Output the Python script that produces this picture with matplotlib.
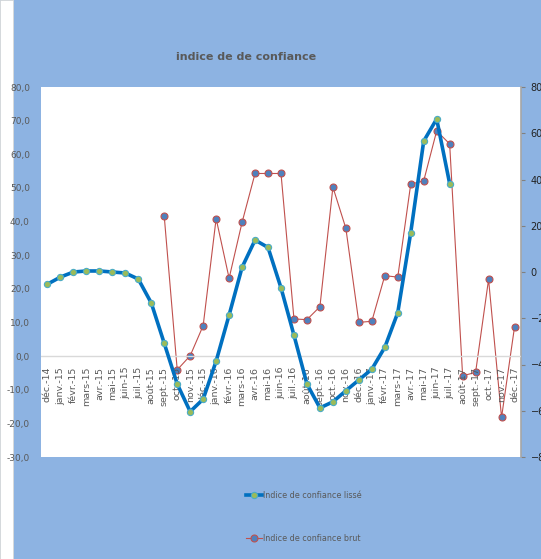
import matplotlib
matplotlib.use("Agg")
import matplotlib.pyplot as plt
from matplotlib.patches import Rectangle
from matplotlib.ticker import FuncFormatter

months = ["déc.-14", "janv.-15", "févr.-15", "mars-15", "avr.-15", "mai-15", "juin-15",
          "juil.-15", "août-15", "sept.-15", "oct.-15", "nov.-15", "déc.-15",
          "janv.-16", "févr.-16", "mars-16", "avr.-16", "mai-16", "juin-16", "juil.-16",
          "août-16", "sept.-16", "oct.-16", "nov.-16", "déc.-16",
          "janv.-17", "févr.-17", "mars-17", "avr.-17", "mai-17", "juin-17", "juil.-17",
          "août-17", "sept.-17", "oct.-17", "nov.-17", "déc.-17"]

# indice lissé (left axis), déc.-14 .. juil.-17
lisse = [21.4, 23.5, 25.0, 25.3, 25.3, 25.0, 24.7, 22.9, 15.8, 3.8, -8.3, -16.5, -12.8,
         -1.5, 12.2, 26.4, 34.5, 32.3, 20.3, 6.2, -8.3, -15.4, -13.6, -10.3, -7.1,
         -3.9, 2.6, 12.9, 36.7, 63.9, 70.5, 51.3]

# indice brut (right axis), sept.-15 .. déc.-17
brut_start = 9
brut = [24.1, -42.3, -36.2, -23.2, 23.1, -2.7, 21.5, 42.6, 42.6, 42.6, -20.3, -20.6,
        -15.0, 36.7, 18.9, -21.8, -21.3, -1.6, -2.2, 38.0, 39.4, 61.0, 55.4, -44.9,
        -43.4, -3.2, -62.9, -23.8]

BG = "#8DB3E2"
GREY = "#595959"

fig = plt.figure(figsize=(5.41, 5.59), dpi=100, facecolor=BG)
fig.patches.append(Rectangle((0, 0), 13 / 541, 1, transform=fig.transFigure,
                             facecolor="white", edgecolor="#d9d9d9", lw=0.6, zorder=0))

ax = fig.add_axes([41 / 541, 1 - 457 / 559, 480 / 541, 370 / 559])
ax2 = ax.twinx()

n = len(months)
ax.set_xlim(-0.5, n - 0.5)
ax.set_ylim(-30, 80)
ax.set_yticks(range(-30, 81, 10))
ax.yaxis.set_major_formatter(FuncFormatter(lambda v, p: f"{v:.1f}".replace(".", ",")))
ax.tick_params(axis="y", length=0, labelsize=6.5, labelcolor=GREY, pad=8)
ax.set_xticks([])
for s in ax.spines.values():
    s.set_visible(False)
ax.axhline(0, color="#d9d9d9", lw=1, zorder=1)

for i, m in enumerate(months):
    ax.text(i, -3.2, m, rotation=90, ha="center", va="top", fontsize=6.8,
            color=GREY, zorder=2)

ax2.set_ylim(-80, 80)
ax2.set_yticks(range(-80, 81, 20))
ax2.tick_params(axis="y", length=3, direction="out", color="#808080",
                labelsize=7, labelcolor="#222222", pad=4)
for k in ["top", "left", "bottom"]:
    ax2.spines[k].set_visible(False)
ax2.spines["right"].set_color("#a6a6a6")
ax2.spines["right"].set_linewidth(1.2)

l1, = ax.plot(range(len(lisse)), lisse, color="#0070C0", lw=2.6, marker="o",
              markersize=4.5, markerfacecolor="#9BBB59", markeredgecolor="#4BACC6",
              markeredgewidth=0.8, zorder=4, label="Indice de confiance lissé")
l2, = ax2.plot(range(brut_start, brut_start + len(brut)), brut, color="#C0504D", lw=0.8,
               marker="o", markersize=5, markerfacecolor="#4F81BD",
               markeredgecolor="#C0504D", markeredgewidth=0.8, zorder=3,
               label="Indice de confiance brut")
ax2.patch.set_visible(True)
ax2.patch.set_facecolor("white")
ax.patch.set_visible(False)
ax.set_zorder(2)
ax2.set_zorder(1)

fig.text(246 / 541, 1 - 57 / 559, "indice de de confiance", ha="center", va="center",
         fontsize=8, fontweight="bold", color=GREY)

leg = fig.legend(handles=[l1, l2], loc="center", bbox_to_anchor=(304 / 541, 1 - 517 / 559),
                 frameon=False, fontsize=5.8, labelspacing=4.2, handlelength=2.0,
                 handletextpad=0.1, labelcolor=GREY)

fig.savefig("out.png", dpi=100, facecolor=BG)
